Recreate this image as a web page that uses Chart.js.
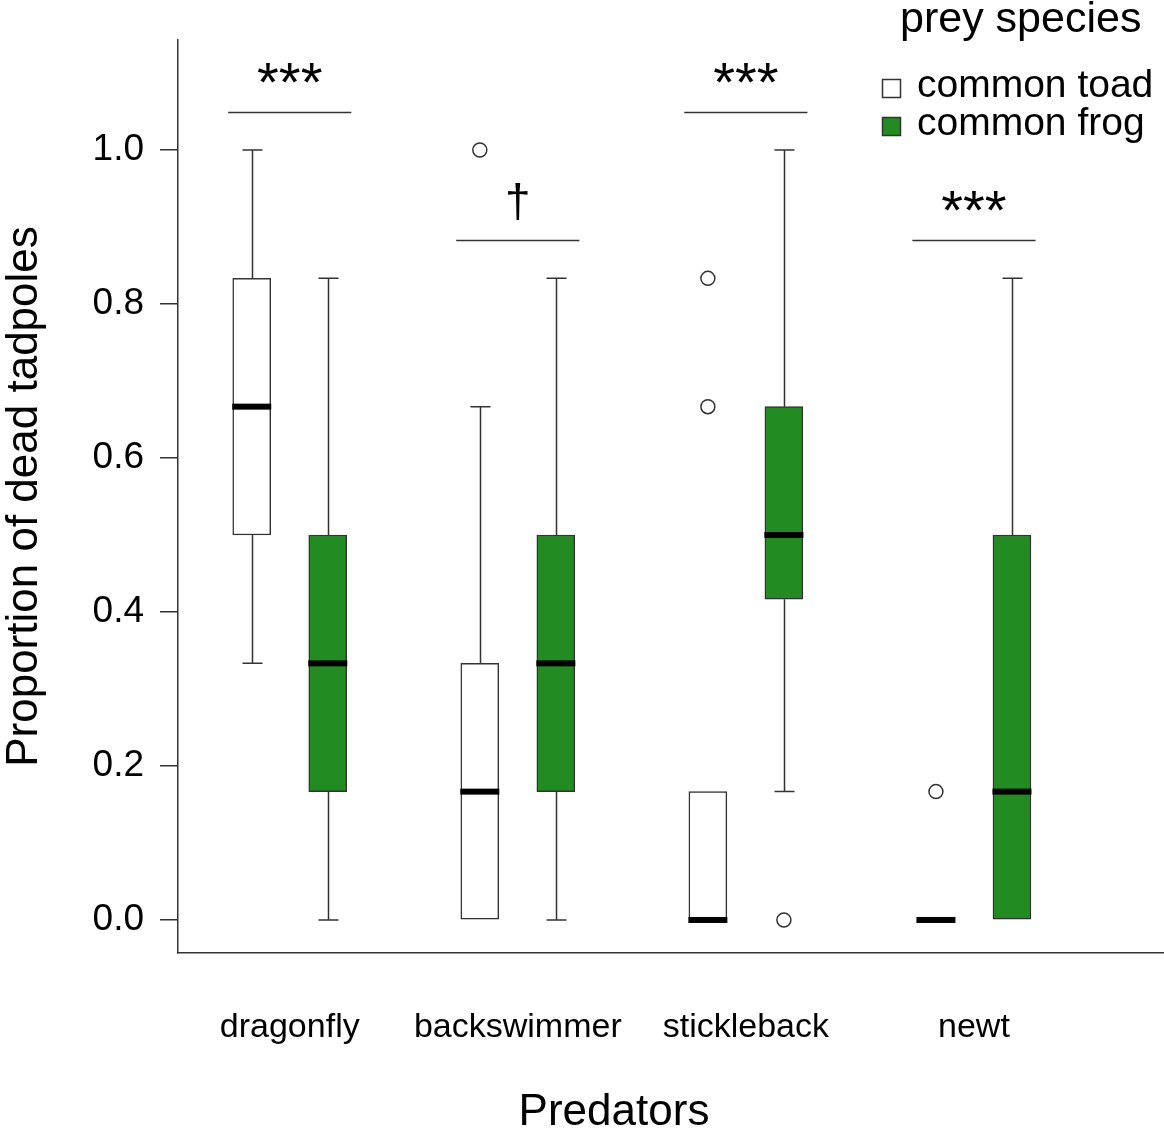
<!DOCTYPE html>
<html lang="en">
<head>
<meta charset="UTF-8">
<title>Tadpole mortality by predator</title>
<script src="https://cdn.jsdelivr.net/npm/chart.js"></script>
<style>
  body { margin: 0; background: #fff; }
  canvas { display: block; }
</style>
</head>
<body>
<canvas id="chart" width="1164" height="1133"></canvas>
<script>
// predators along the x axis, each with a toad box and a frog box
const predators = ['dragonfly', 'backswimmer', 'stickleback', 'newt'];
const toadPos = [1, 4, 7, 10];
const frogPos = [2, 5, 8, 11];
const predatorPos = [1.5, 4.5, 7.5, 10.5];

// common toad box stats
const toadLow = [0.3333, 0, 0, 0];
const toadQ1 = [0.5, 0, 0, 0];
const toadMed = [0.6667, 0.1667, 0, 0];
const toadQ3 = [0.8333, 0.3333, 0.1667, 0];
const toadHigh = [1.0, 0.6667, 0.1667, 0];
const toadOutliers = [[], [1.0], [0.6667, 0.8333], [0.1667]];

// common frog box stats
const frogLow = [0, 0, 0.1667, 0];
const frogQ1 = [0.1667, 0.1667, 0.4167, 0];
const frogMed = [0.3333, 0.3333, 0.5, 0.1667];
const frogQ3 = [0.5, 0.5, 0.6667, 0.5];
const frogHigh = [0.8333, 0.8333, 1.0, 0.8333];
const frogOutliers = [[], [], [0], []];

// significance marks above each predator pair
const sigLabels = ['***', '\u2020', '***', '***'];
const sigLevels = [1.05, 0.883, 1.05, 0.883];

const yTicks = [0, 0.2, 0.4, 0.6, 0.8, 1.0];

const GREEN = '#228B22';
const INK = '#333';
const FONT = '"Liberation Sans", Arial, sans-serif';

function outlierPoints(pos, lists) {
  const pts = [];
  lists.forEach((vals, i) => vals.forEach(v => pts.push({ x: pos[i], y: v })));
  return pts;
}

const boxExtras = {
  id: 'boxExtras',
  beforeDatasetsDraw(chart) {
    const { ctx } = chart;
    const xs = chart.scales.x, ys = chart.scales.y;
    ctx.save();
    ctx.strokeStyle = INK;
    ctx.lineWidth = 1.5;
    const whisk = (pos, lo, q1, q3, hi) => {
      pos.forEach((p, i) => {
        const x = Math.round(xs.getPixelForValue(p)) + 0.5;
        if (hi[i] > q3[i]) {
          ctx.beginPath();
          ctx.moveTo(x, ys.getPixelForValue(q3[i]));
          ctx.lineTo(x, ys.getPixelForValue(hi[i]));
          ctx.moveTo(x - 10, ys.getPixelForValue(hi[i]));
          ctx.lineTo(x + 10, ys.getPixelForValue(hi[i]));
          ctx.stroke();
        }
        if (lo[i] < q1[i]) {
          ctx.beginPath();
          ctx.moveTo(x, ys.getPixelForValue(q1[i]));
          ctx.lineTo(x, ys.getPixelForValue(lo[i]));
          ctx.moveTo(x - 10, ys.getPixelForValue(lo[i]));
          ctx.lineTo(x + 10, ys.getPixelForValue(lo[i]));
          ctx.stroke();
        }
      });
    };
    whisk(toadPos, toadLow, toadQ1, toadQ3, toadHigh);
    whisk(frogPos, frogLow, frogQ1, frogQ3, frogHigh);
    ctx.restore();
  },
  afterDatasetsDraw(chart) {
    const { ctx } = chart;
    const xs = chart.scales.x, ys = chart.scales.y;
    ctx.save();

    // medians
    ctx.fillStyle = '#000';
    const med = (pos, m) => pos.forEach((p, i) => {
      const x = xs.getPixelForValue(p);
      const y = ys.getPixelForValue(m[i]);
      ctx.fillRect(x - 19.5, y - 3, 39, 6);
    });
    med(toadPos, toadMed);
    med(frogPos, frogMed);

    // significance brackets
    ctx.strokeStyle = INK;
    ctx.lineWidth = 1.5;
    ctx.fillStyle = '#000';
    ctx.textAlign = 'center';
    ctx.textBaseline = 'alphabetic';
    predatorPos.forEach((p, i) => {
      const y = Math.round(ys.getPixelForValue(sigLevels[i])) + 0.5;
      ctx.beginPath();
      ctx.moveTo(xs.getPixelForValue(p - 0.81), y);
      ctx.lineTo(xs.getPixelForValue(p + 0.81), y);
      ctx.stroke();
      if (sigLabels[i] === '***') {
        ctx.font = '56px ' + FONT;
        ctx.fillText(sigLabels[i], xs.getPixelForValue(p), y - 12);
      } else {
        ctx.font = '46px ' + FONT;
        ctx.fillText(sigLabels[i], xs.getPixelForValue(p), y - 24);
      }
    });

    // predator names under the axis
    ctx.font = '34px ' + FONT;
    predatorPos.forEach((p, i) => {
      ctx.fillText(predators[i], xs.getPixelForValue(p), 1037);
    });

    // legend
    ctx.textAlign = 'left';
    ctx.font = '43px ' + FONT;
    ctx.fillText('prey species', 900, 32);
    ctx.font = '39px ' + FONT;
    ctx.fillStyle = '#fff';
    ctx.fillRect(882.5, 79.5, 18, 18);
    ctx.strokeRect(882.5, 79.5, 18, 18);
    ctx.fillStyle = GREEN;
    ctx.fillRect(882.5, 117.5, 18, 18);
    ctx.strokeRect(882.5, 117.5, 18, 18);
    ctx.fillStyle = '#000';
    ctx.fillText('common toad', 917, 97);
    ctx.fillText('common frog', 917, 135);

    // x axis title
    ctx.textAlign = 'center';
    ctx.font = '44px ' + FONT;
    ctx.fillText('Predators', 614, 1125);
    ctx.restore();
  }
};

new Chart(document.getElementById('chart'), {
  type: 'bar',
  data: {
    datasets: [
      {
        label: 'common toad',
        data: toadPos.map((p, i) => ({ x: p, y: [toadQ1[i], toadQ3[i]] })),
        backgroundColor: '#fff',
        borderColor: INK,
        borderWidth: 1.5,
        borderSkipped: false
      },
      {
        label: 'common frog',
        data: frogPos.map((p, i) => ({ x: p, y: [frogQ1[i], frogQ3[i]] })),
        backgroundColor: GREEN,
        borderColor: INK,
        borderWidth: 1.5,
        borderSkipped: false
      },
      {
        type: 'scatter',
        label: 'outliers',
        data: outlierPoints(toadPos, toadOutliers).concat(outlierPoints(frogPos, frogOutliers)),
        pointStyle: 'circle',
        pointRadius: 7,
        backgroundColor: '#fff',
        borderColor: INK,
        borderWidth: 1.5
      }
    ]
  },
  options: {
    responsive: false,
    animation: false,
    datasets: { bar: { grouped: false, barThickness: 38 } },
    layout: { autoPadding: false, padding: { top: 40, left: 0, right: 0, bottom: 0 } },
    plugins: { legend: { display: false }, tooltip: { enabled: false } },
    scales: {
      x: {
        type: 'linear',
        min: 0.03,
        max: 13,
        offset: false,
        afterFit: s => { s.height = 180; },
        grid: { drawOnChartArea: false, drawTicks: false },
        border: { display: true, color: INK, width: 1.5 },
        ticks: { display: false }
      },
      y: {
        min: -0.0429,
        max: 1.1429,
        afterFit: s => { s.width = 178; },
        afterBuildTicks: s => { s.ticks = yTicks.map(v => ({ value: v })); },
        grid: { drawOnChartArea: false, drawTicks: true, tickLength: 18, color: INK, lineWidth: 1.5 },
        border: { display: true, color: INK, width: 1.5 },
        ticks: {
          padding: 16,
          color: '#000',
          font: { family: FONT, size: 37 },
          callback: v => v.toFixed(1)
        },
        title: {
          display: true,
          text: 'Proportion of dead tadpoles',
          color: '#000',
          font: { family: FONT, size: 44, lineHeight: 1.15 },
          padding: { top: 0, bottom: 0 }
        }
      }
    }
  },
  plugins: [boxExtras]
});
</script>
</body>
</html>
